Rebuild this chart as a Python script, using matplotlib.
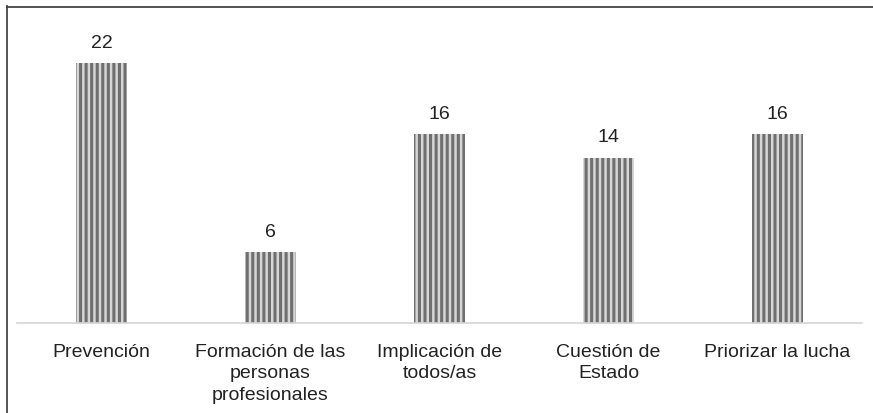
import matplotlib.pyplot as plt
from matplotlib.lines import Line2D

categories = ['Prevención', 'Formación de las\npersonas\nprofesionales',
              'Implicación de\ntodos/as', 'Cuestión de\nEstado', 'Priorizar la lucha']
values = [22, 6, 16, 14, 16]

plt.rcParams['font.family'] = ['Liberation Sans', 'DejaVu Sans']
plt.rcParams['hatch.linewidth'] = 2.2
plt.rcParams['hatch.color'] = '#6f6f6f'

W, H = 873, 413
fig = plt.figure(figsize=(W / 100, H / 100), dpi=100)
px_per_unit = 11.82
ymax = 24
left, right, base = 17, 862, 323
ax = fig.add_axes([left / W, (H - base) / H, (right - left) / W, ymax * px_per_unit / H])

x = range(len(values))
bars = ax.bar(x, values, width=0.30, color='#d6d6d6', edgecolor='#6f6f6f',
              linewidth=0, hatch='|||')

for xi, v in zip(x, values):
    ax.text(xi, v + 0.95, str(v), ha='center', va='bottom', fontsize=14, color='#222222')

ax.set_xlim(-0.5, len(values) - 0.5)
ax.set_ylim(0, ymax)
for s in ['left', 'right', 'top']:
    ax.spines[s].set_visible(False)
ax.spines['bottom'].set_color('#d4d4d4')
ax.spines['bottom'].set_linewidth(1.2)
ax.set_yticks([])
ax.set_xticks(list(x))
ax.set_xticklabels(categories, fontsize=14, color='#222222', linespacing=1.35)
ax.tick_params(axis='x', length=0, pad=15)

# outer frame lines (top and left only)
fig.add_artist(Line2D([6.5 / W, 6.5 / W], [0, 1 - 6 / H], color='#444444', lw=1.3))
fig.add_artist(Line2D([6.5 / W, 1], [1 - 6.5 / H, 1 - 6.5 / H], color='#444444', lw=1.3))

fig.savefig('out.png', dpi=100)
